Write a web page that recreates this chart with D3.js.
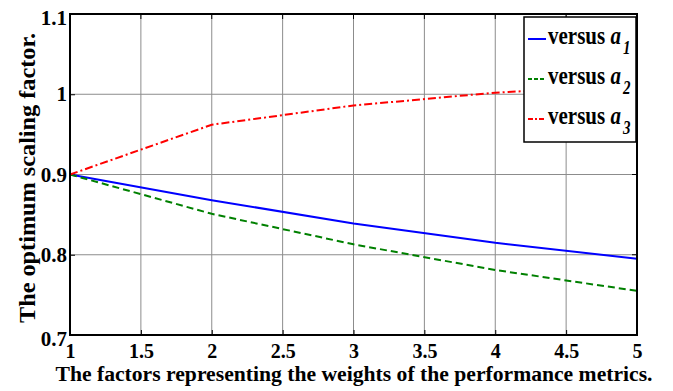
<!DOCTYPE html>
<html>
<head>
<meta charset="utf-8">
<script src="https://cdn.jsdelivr.net/npm/d3@7"></script>
<style>
  body { margin: 0; background: #fff; }
</style>
</head>
<body>
<div id="chart"></div>
<script>
// data
var weights = [1, 2, 3, 4, 5];
var versusA1 = [0.9, 0.868, 0.839, 0.815, 0.795];
var versusA2 = [0.9, 0.851, 0.813, 0.781, 0.755];
var versusA3 = [0.9, 0.962, 0.986, 1.002, 1.011];
var xTicks = [1, 1.5, 2, 2.5, 3, 3.5, 4, 4.5, 5];
var yTicks = [0.7, 0.8, 0.9, 1, 1.1];

var series = [
    { sub: "1", values: versusA1, color: "#0000ff", dash: null, legDash: null },
    { sub: "2", values: versusA2, color: "#008000", dash: "7,4", legDash: "4,2" },
    { sub: "3", values: versusA3, color: "#ff0000", dash: "8,3,2,3", legDash: "5,2,2,2" }
];

var FONT = "Liberation Serif";

var W = 673, H = 391;
var margin = { top: 14, right: 36, bottom: 56, left: 70 };
var width = W - margin.left - margin.right,
    height = H - margin.top - margin.bottom;

var svg = d3.select("#chart").append("svg")
    .attr("width", W)
    .attr("height", H);

var g = svg.append("g")
    .attr("transform", "translate(" + margin.left + "," + margin.top + ")");

var x = d3.scaleLinear().domain([1, 5]).range([0, width]);
var y = d3.scaleLinear().domain([0.7, 1.1]).range([height, 0]);

// grid
g.append("g")
    .selectAll("line")
    .data(xTicks)
    .enter().append("line")
    .attr("x1", d => x(d)).attr("x2", d => x(d))
    .attr("y1", 0).attr("y2", height)
    .attr("stroke", "#8c8c8c").attr("stroke-width", 1);

g.append("g")
    .selectAll("line")
    .data(yTicks)
    .enter().append("line")
    .attr("x1", 0).attr("x2", width)
    .attr("y1", d => y(d)).attr("y2", d => y(d))
    .attr("stroke", "#8c8c8c").attr("stroke-width", 1);

// axes (ticks point inward like matlab)
var xAxis = g.append("g")
    .attr("transform", "translate(0," + height + ")")
    .call(d3.axisBottom(x).tickValues(xTicks).tickSizeInner(-5).tickSizeOuter(0).tickPadding(9).tickFormat(d3.format("")));
xAxis.attr("font-family", FONT);
xAxis.select(".domain").remove();
xAxis.selectAll(".tick line").attr("stroke", "#000");
xAxis.selectAll("text")
    .attr("font-family", FONT)
    .attr("font-weight", "bold")
    .attr("font-size", 20)
    .attr("fill", "#000");

var yAxis = g.append("g")
    .call(d3.axisLeft(y).tickValues(yTicks).tickSizeInner(-5).tickSizeOuter(0).tickPadding(3).tickFormat(d3.format("")));
yAxis.attr("font-family", FONT);
yAxis.select(".domain").remove();
yAxis.selectAll(".tick line").attr("stroke", "#000");
yAxis.selectAll("text")
    .attr("font-family", FONT)
    .attr("font-weight", "bold")
    .attr("font-size", 21)
    .attr("fill", "#000")
    .attr("y", (d, i) => (i == 0 || i == yTicks.length - 1) ? 3.5 : 0);

// top ticks / right ticks
g.append("g").selectAll("line").data(xTicks).enter().append("line")
    .attr("x1", d => x(d)).attr("x2", d => x(d))
    .attr("y1", 0).attr("y2", 5).attr("stroke", "#000");
g.append("g").selectAll("line").data(yTicks).enter().append("line")
    .attr("x1", width).attr("x2", width - 5)
    .attr("y1", d => y(d)).attr("y2", d => y(d)).attr("stroke", "#000");

// lines
var line = d3.line()
    .x((d, i) => x(weights[i]))
    .y(d => y(d));

series.forEach(function (s) {
    g.append("path")
        .datum(s.values)
        .attr("d", line)
        .attr("fill", "none")
        .attr("stroke", s.color)
        .attr("stroke-width", 2)
        .attr("stroke-dasharray", s.dash);
});

// frame
g.append("rect")
    .attr("width", width).attr("height", height)
    .attr("fill", "none").attr("stroke", "#000").attr("stroke-width", 2);

// legend
var lg = svg.append("g").attr("transform", "translate(524,17)");
lg.append("rect")
    .attr("width", 112).attr("height", 125)
    .attr("fill", "#fff").attr("stroke", "#000").attr("stroke-width", 1.5);

series.forEach(function (s, i) {
    var yy = 22 + i * 40;
    lg.append("line")
        .attr("x1", 4).attr("x2", 22)
        .attr("y1", yy).attr("y2", yy)
        .attr("stroke", s.color).attr("stroke-width", 2)
        .attr("stroke-dasharray", s.legDash);
    // text in the figure is a bit stretched vertically
    var t = lg.append("text")
        .attr("transform", "translate(24," + (yy + 5) + ") scale(1,1.2)")
        .attr("font-family", FONT)
        .attr("font-weight", "bold")
        .attr("font-size", 21)
        .attr("fill", "#000");
    t.append("tspan").text("versus ");
    t.append("tspan").attr("font-style", "italic").text("a");
    t.append("tspan").attr("font-style", "italic").attr("font-size", 15)
        .attr("dx", 2).attr("dy", 8).text(s.sub);
});

// axis titles
svg.append("text")
    .attr("x", 354).attr("y", 381)
    .attr("text-anchor", "middle")
    .attr("font-family", FONT)
    .attr("font-weight", "bold")
    .attr("font-size", 20)
    .attr("textLength", 597)
    .attr("lengthAdjust", "spacingAndGlyphs")
    .text("The factors representing the weights of the performance metrics.");

svg.append("text")
    .attr("transform", "translate(35,178) rotate(-90)")
    .attr("text-anchor", "middle")
    .attr("font-family", FONT)
    .attr("font-weight", "bold")
    .attr("font-size", 24)
    .attr("textLength", 290)
    .attr("lengthAdjust", "spacingAndGlyphs")
    .text("The optimum scaling factor.");
</script>
</body>
</html>
